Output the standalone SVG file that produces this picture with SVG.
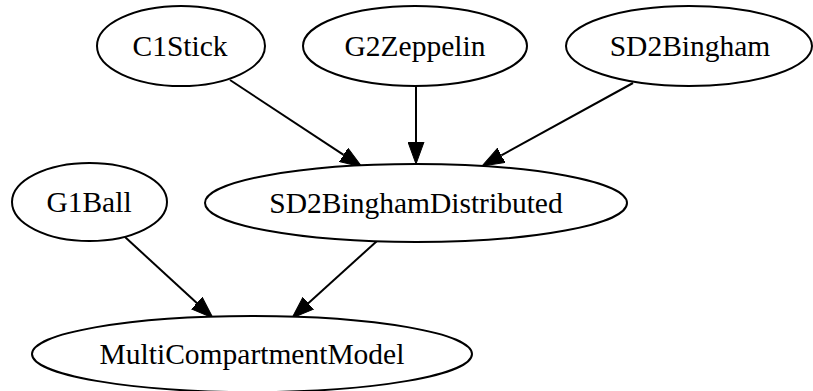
<svg xmlns="http://www.w3.org/2000/svg" width="813" height="391" viewBox="0 0 813 391">
  <style>
    .node ellipse { fill: #ffffff; stroke: #000000; stroke-width: 2; }
    .node text { font-family: "Liberation Serif", "Times New Roman", serif; font-size: 29.5px; text-anchor: middle; fill: #000000; }
    .edge { stroke: #000000; stroke-width: 2; fill: none; marker-end: url(#arrow); }
  </style>
  <defs>
    <marker id="arrow" viewBox="0 0 22 17" refX="0" refY="8.5" markerWidth="22" markerHeight="17" markerUnits="userSpaceOnUse" orient="auto">
      <path d="M0,0.5 L22,8.5 L0,16.5 Z" fill="#000000" stroke="#000000" stroke-width="1"/>
    </marker>
  </defs>
  <rect width="813" height="391" fill="#ffffff"/>

  <!-- connectors -->
  <g id="edges">
    <line class="edge" x1="230" y1="80" x2="343.6" y2="154.9"/>
    <line class="edge" x1="416" y1="87" x2="416" y2="142"/>
    <line class="edge" x1="633" y1="83" x2="501.3" y2="155.4"/>
    <line class="edge" x1="125" y1="237" x2="196.8" y2="303.1"/>
    <line class="edge" x1="377" y1="241" x2="308.3" y2="303.2"/>
  </g>

  <!-- nodes -->
  <g id="C1Stick" class="node">
    <ellipse cx="181" cy="46" rx="84" ry="40"/>
    <text x="180" y="56">C1Stick</text>
  </g>
  <g id="G2Zeppelin" class="node">
    <ellipse cx="415" cy="46" rx="112" ry="40"/>
    <text x="415" y="56">G2Zeppelin</text>
  </g>
  <g id="SD2Bingham" class="node">
    <ellipse cx="689" cy="46" rx="123" ry="40"/>
    <text x="690" y="56">SD2Bingham</text>
  </g>
  <g id="G1Ball" class="node">
    <ellipse cx="89.5" cy="202" rx="77.5" ry="39"/>
    <text x="89" y="212">G1Ball</text>
  </g>
  <g id="SD2BinghamDistributed" class="node">
    <ellipse cx="416" cy="203" rx="211" ry="39"/>
    <text x="416" y="213">SD2BinghamDistributed</text>
  </g>
  <g id="MultiCompartmentModel" class="node">
    <ellipse cx="252" cy="354" rx="220" ry="38"/>
    <text x="252" y="364">MultiCompartmentModel</text>
  </g>
</svg>
